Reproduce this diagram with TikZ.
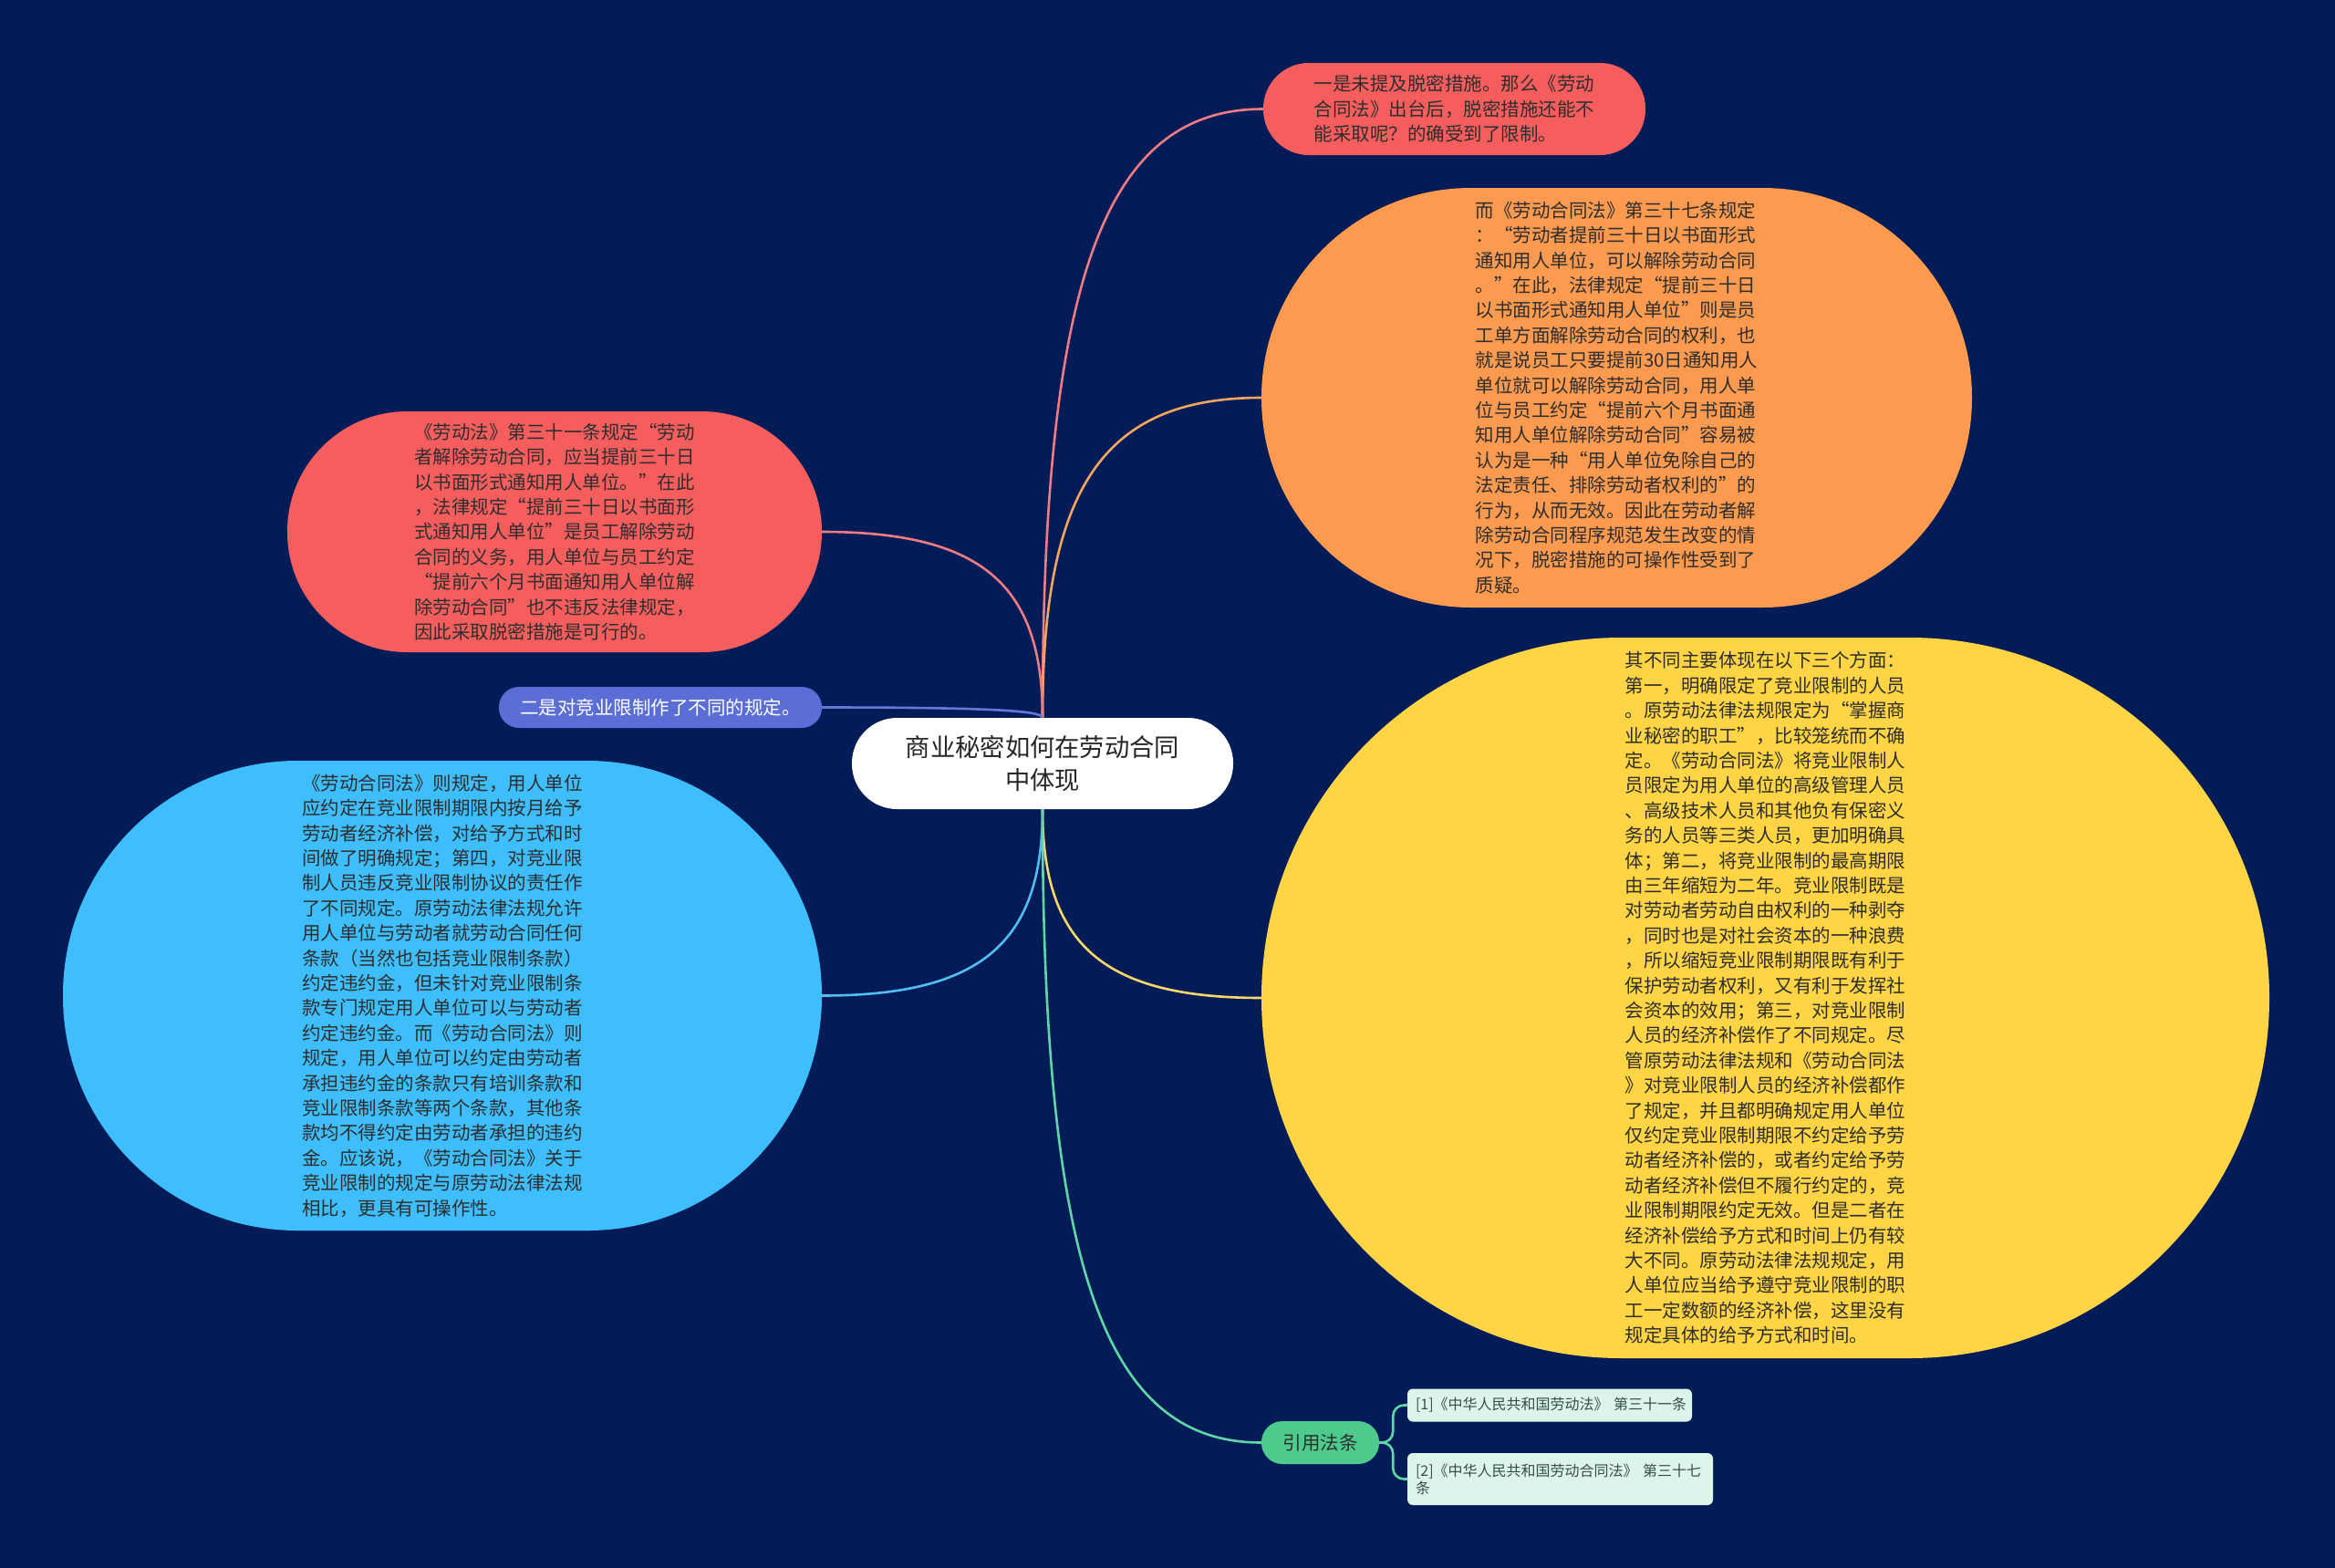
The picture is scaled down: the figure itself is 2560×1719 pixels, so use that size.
\documentclass[tikz,border=0pt]{standalone}
\usepackage{fontspec}
\newfontfamily\cjk{Noto Sans CJK SC}
\usetikzlibrary{calc}
\definecolor{bgc}{RGB}{3,28,87}
\definecolor{cRed}{RGB}{246,94,94}
\definecolor{lRed}{RGB}{238,124,130}
\definecolor{cOrange}{RGB}{252,154,80}
\definecolor{lOrange}{RGB}{246,165,95}
\definecolor{cYellow}{RGB}{255,213,70}
\definecolor{lYellow}{RGB}{246,216,106}
\definecolor{cCyan}{RGB}{62,190,252}
\definecolor{lCyan}{RGB}{80,190,240}
\definecolor{cBlue}{RGB}{90,110,214}
\definecolor{lBlue}{RGB}{100,120,220}
\definecolor{cGreen}{RGB}{76,203,141}
\definecolor{lGreen}{RGB}{94,214,166}
\definecolor{cMint}{RGB}{221,244,234}
\definecolor{tDark}{RGB}{46,46,46}
\definecolor{tRef}{RGB}{53,80,74}
\tikzset{
  topic/.style={rectangle, inner sep=0pt, align=left, text=tDark,
    font=\cjk\fontsize{20.5}{27.4}\selectfont},
  link/.style={line width=2.6pt},
}
\newcommand\linkcurve[3]{\draw[link,#1] (#2) .. controls ($(#2)!0.72!(#2 |- #3)$) and ($(#3)!0.72!(#2 |- #3)$) .. (#3);}
\begin{document}
\begin{tikzpicture}[x=1pt,y=-1pt]
\fill[bgc] (0,0) rectangle (2560,1719);
\useasboundingbox (0,0) rectangle (2560,1719);

% centre
\node[topic, fill=white, align=center, minimum width=418pt, minimum height=100pt,
  rounded corners=49.5pt, text=black!85, font=\cjk\fontsize{27.3}{36}\selectfont]
  (c) at (1143,837) {商业秘密如何在劳动合同\\中体现};

% right top red
\node[topic, fill=cRed, minimum width=419pt, minimum height=101pt, rounded corners=50pt]
  (n1) at (1594.5,119.5) {一是未提及脱密措施。那么《劳动\\合同法》出台后，脱密措施还能不\\能采取呢？的确受到了限制。};

% orange
\node[topic, fill=cOrange, minimum width=779pt, minimum height=460pt, rounded corners=229.5pt]
  (n2) at (1772.5,436) {而《劳动合同法》第三十七条规定\\
：“劳动者提前三十日以书面形式\\
通知用人单位，可以解除劳动合同\\
。”在此，法律规定“提前三十日\\
以书面形式通知用人单位”则是员\\
工单方面解除劳动合同的权利，也\\
就是说员工只要提前30日通知用人\\
单位就可以解除劳动合同，用人单\\
位与员工约定“提前六个月书面通\\
知用人单位解除劳动合同”容易被\\
认为是一种“用人单位免除自己的\\
法定责任、排除劳动者权利的”的\\
行为，从而无效。因此在劳动者解\\
除劳动合同程序规范发生改变的情\\
况下，脱密措施的可操作性受到了\\
质疑。};

% left red
\node[topic, fill=cRed, minimum width=586pt, minimum height=264pt, rounded corners=131.5pt]
  (n3) at (608,583) {《劳动法》第三十一条规定“劳动\\
者解除劳动合同，应当提前三十日\\
以书面形式通知用人单位。”在此\\
，法律规定“提前三十日以书面形\\
式通知用人单位”是员工解除劳动\\
合同的义务，用人单位与员工约定\\
“提前六个月书面通知用人单位解\\
除劳动合同”也不违反法律规定，\\
因此采取脱密措施是可行的。};

% blue
\node[topic, fill=cBlue, text=white, minimum width=354pt, minimum height=45pt, rounded corners=22pt]
  (n4) at (724,775.5) {二是对竞业限制作了不同的规定。};

% cyan
\node[topic, fill=cCyan, minimum width=832pt, minimum height=515pt, rounded corners=257pt]
  (n5) at (485,1091.5) {《劳动合同法》则规定，用人单位\\
应约定在竞业限制期限内按月给予\\
劳动者经济补偿，对给予方式和时\\
间做了明确规定；第四，对竞业限\\
制人员违反竞业限制协议的责任作\\
了不同规定。原劳动法律法规允许\\
用人单位与劳动者就劳动合同任何\\
条款（当然也包括竞业限制条款）\\
约定违约金，但未针对竞业限制条\\
款专门规定用人单位可以与劳动者\\
约定违约金。而《劳动合同法》则\\
规定，用人单位可以约定由劳动者\\
承担违约金的条款只有培训条款和\\
竞业限制条款等两个条款，其他条\\
款均不得约定由劳动者承担的违约\\
金。应该说，《劳动合同法》关于\\
竞业限制的规定与原劳动法律法规\\
相比，更具有可操作性。};

% yellow
\node[topic, fill=cYellow, minimum width=1105pt, minimum height=790pt, rounded corners=394.5pt]
  (n6) at (1935.5,1094) {其不同主要体现在以下三个方面：\\
第一，明确限定了竞业限制的人员\\
。原劳动法律法规限定为“掌握商\\
业秘密的职工”，比较笼统而不确\\
定。《劳动合同法》将竞业限制人\\
员限定为用人单位的高级管理人员\\
、高级技术人员和其他负有保密义\\
务的人员等三类人员，更加明确具\\
体；第二，将竞业限制的最高期限\\
由三年缩短为二年。竞业限制既是\\
对劳动者劳动自由权利的一种剥夺\\
，同时也是对社会资本的一种浪费\\
，所以缩短竞业限制期限既有利于\\
保护劳动者权利，又有利于发挥社\\
会资本的效用；第三，对竞业限制\\
人员的经济补偿作了不同规定。尽\\
管原劳动法律法规和《劳动合同法\\
》对竞业限制人员的经济补偿都作\\
了规定，并且都明确规定用人单位\\
仅约定竞业限制期限不约定给予劳\\
动者经济补偿的，或者约定给予劳\\
动者经济补偿但不履行约定的，竞\\
业限制期限约定无效。但是二者在\\
经济补偿给予方式和时间上仍有较\\
大不同。原劳动法律法规规定，用\\
人单位应当给予遵守竞业限制的职\\
工一定数额的经济补偿，这里没有\\
规定具体的给予方式和时间。};

% green
\node[topic, fill=cGreen, align=center, minimum width=129pt, minimum height=47pt, rounded corners=23pt]
  (g) at (1447.5,1581.5) {引用法条};

% refs
\node[topic, fill=cMint, text=tRef, minimum width=312pt, minimum height=36pt, rounded corners=6pt,
  text width=294pt, font=\cjk\fontsize{16}{19}\selectfont]
  (r1) at (1699,1540.5) {[1]《中华人民共和国劳动法》~第三十一条};
\node[topic, fill=cMint, text=tRef, minimum width=335pt, minimum height=57pt, rounded corners=6pt,
  text width=317pt, font=\cjk\fontsize{16}{19}\selectfont]
  (r2) at (1710.5,1621.5) {[2]《中华人民共和国劳动合同法》~第三十七\\条};

% connectors
\linkcurve{lRed}{c.north}{n1.west}
\linkcurve{lOrange}{c.north}{n2.west}
\linkcurve{lRed}{c.north}{n3.east}
\linkcurve{lBlue}{c.north}{n4.east}
\linkcurve{lCyan}{c.south}{n5.east}
\linkcurve{lYellow}{c.south}{n6.west}
\linkcurve{lGreen}{c.south}{g.west}
\draw[link,lGreen,rounded corners=12pt] (g.east) -- ++(15,0) |- (r1.west);
\draw[link,lGreen,rounded corners=12pt] (g.east) -- ++(15,0) |- (r2.west);
\end{tikzpicture}
\end{document}
